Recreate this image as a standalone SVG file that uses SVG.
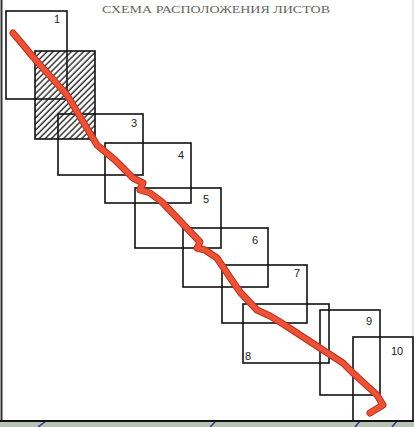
<svg xmlns="http://www.w3.org/2000/svg" width="414" height="427" viewBox="0 0 414 427">
<style>
.sheet{fill:none;stroke:#111;stroke-width:1.6}
.lbl{font-family:"Liberation Sans",Arial,sans-serif;font-size:11px;fill:#222}
.title{font-family:"Liberation Serif","Times New Roman",serif;font-size:11px;fill:#666}
</style>
<defs>
<pattern id="hatch" patternUnits="userSpaceOnUse" width="4.3" height="4.3" patternTransform="rotate(45)">
<line x1="1" y1="0" x2="1" y2="4.3" stroke="#1a1a1a" stroke-width="1.3"/>
</pattern>
</defs>
<rect width="414" height="427" fill="#fff"/>
<rect x="0" y="422" width="414" height="5" fill="#b9c2b6"/>
<g stroke="#2a3a9a" stroke-width="1.5">
<line x1="38" y1="427" x2="46" y2="421"/>
<line x1="210" y1="427" x2="215" y2="422"/>
<line x1="355" y1="427" x2="360" y2="421"/>
<line x1="392" y1="427" x2="397" y2="421"/>
</g>
<line x1="1.5" y1="0" x2="1.5" y2="422" stroke="#333" stroke-width="2"/>
<line x1="0" y1="421" x2="414" y2="421" stroke="#111" stroke-width="2"/>
<line x1="413" y1="0" x2="413" y2="421" stroke="#ccc" stroke-width="1"/>
<text class="title" x="102" y="13" textLength="228" lengthAdjust="spacingAndGlyphs">СХЕМА РАСПОЛОЖЕНИЯ ЛИСТОВ</text>
<g id="sheet1"><rect class="sheet" x="6" y="11" width="61" height="88"/><text class="lbl" x="54" y="23">1</text></g>
<g id="sheet2"><rect x="35" y="51" width="60" height="88" fill="url(#hatch)" stroke="#111" stroke-width="1.6"/></g>
<g id="sheet3"><rect class="sheet" x="58" y="114" width="85" height="61"/><text class="lbl" x="131" y="127">3</text></g>
<g id="sheet4"><rect class="sheet" x="105" y="143" width="86" height="60"/><text class="lbl" x="178" y="159">4</text></g>
<g id="sheet5"><rect class="sheet" x="135" y="188" width="86" height="60"/><text class="lbl" x="203" y="203">5</text></g>
<g id="sheet6"><rect class="sheet" x="183" y="228" width="85" height="59"/><text class="lbl" x="252" y="244">6</text></g>
<g id="sheet7"><rect class="sheet" x="222" y="265" width="85" height="58"/><text class="lbl" x="294" y="277">7</text></g>
<g id="sheet8"><rect class="sheet" x="243" y="304" width="86" height="59"/><text class="lbl" x="245" y="360">8</text></g>
<g id="sheet9"><rect class="sheet" x="320" y="310" width="60" height="85"/><text class="lbl" x="366" y="325">9</text></g>
<g id="sheet10"><rect class="sheet" x="353" y="337" width="60" height="84"/><text class="lbl" x="391" y="355">10</text></g>
<g id="connectors">
<polyline fill="none" stroke="#b8321f" stroke-width="7" stroke-linejoin="round" stroke-linecap="round" points="13,33 24,46 33,57 50,76 67,95 82,120 97,145 115,160 133,178 143,183 140,190 150,193 162,202 181,222 200,242 197,248 205,250 217,258 229,276 240,292 257,310 270,316 280,322 300,335 323,350 343,363 353,373 365,384 377,395 383,405 370,413"/>
<polyline fill="none" stroke="#ee5236" stroke-width="5" stroke-linejoin="round" stroke-linecap="round" points="13,33 24,46 33,57 50,76 67,95 82,120 97,145 115,160 133,178 143,183 140,190 150,193 162,202 181,222 200,242 197,248 205,250 217,258 229,276 240,292 257,310 270,316 280,322 300,335 323,350 343,363 353,373 365,384 377,395 383,405 370,413"/>
</g>
</svg>
